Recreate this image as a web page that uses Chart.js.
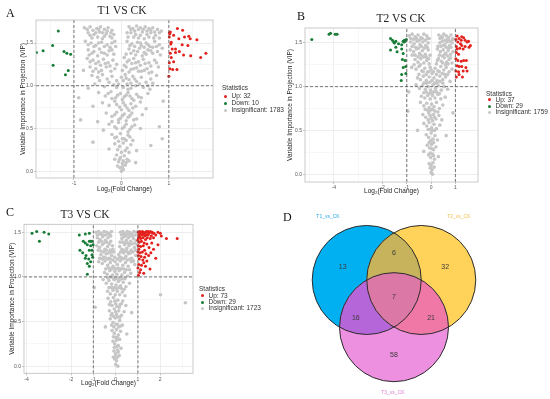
<!DOCTYPE html>
<html>
<head>
<meta charset="utf-8">
<script src="https://cdn.jsdelivr.net/npm/chart.js@4.4.0/dist/chart.umd.min.js"></script>
<style>
  body { margin: 0; width: 550px; height: 399px; background: #fff; position: relative; overflow: hidden; font-family: "Liberation Sans", Arial, sans-serif; }
  canvas { position: absolute; }
  .tag { position: absolute; font-family: "Liberation Serif", serif; font-size: 12px; line-height: 12px; color: #111; }
  .ttl { position: absolute; font-family: "Liberation Serif", serif; font-size: 11.5px; line-height: 12px; color: #222; transform: translateX(-50%); white-space: nowrap; }
  .leg { position: absolute; font-size: 6.5px; color: #333; white-space: nowrap; }
  .leg .dot { display: inline-block; width: 3px; height: 3px; border-radius: 50%; margin: 0 5px 0 1.5px; vertical-align: middle; }
</style>
</head>
<body>
<canvas id="cA" width="275" height="200" style="left:0;top:0"></canvas>
<canvas id="cB" width="275" height="200" style="left:275px;top:0"></canvas>
<canvas id="cC" width="275" height="199" style="left:0;top:200px"></canvas>
<canvas id="cD" width="275" height="199" style="left:275px;top:200px"></canvas>
<script>
// legend categories and counts
const statNames = ['Up', 'Down', 'Insignificant'];
const t1Counts = [32, 10, 1783];
const t2Counts = [37, 29, 1759];
const t3Counts = [73, 29, 1723];

// cut-offs
const fcCut = [-1, 1];
const vipCut = 1;

// volcano points, flat x,y pairs (log2 FC, VIP)
const t1Up = [1.03,1.63, 1.18,1.67, 1.29,1.65, 1.10,1.59, 1.01,1.57, 1.01,1.62, 1.33,1.57, 1.42,1.58, 1.45,1.55, 1.59,1.54,
  1.28,1.48, 1.40,1.47, 1.04,1.49, 1.07,1.43, 1.14,1.39, 1.22,1.40, 1.31,1.36, 1.46,1.35, 1.67,1.33, 1.78,1.38,
  1.03,1.38, 1.05,1.33, 1.10,1.28, 1.01,1.27, 1.02,1.20, 1.08,1.19, 1.17,1.19, 1.00,1.11, 1.14,1.43, 1.21,1.55,
  1.05,1.51, 1.02,1.61];
const t1Down = [-1.33,1.64, -1.65,1.41, -1.45,1.47, -1.21,1.40, -1.15,1.38, -1.07,1.37, -1.44,1.24, -1.12,1.18, -1.18,1.13, -1.79,1.39];
const t1Insig = [
  -0.78,1.68, -0.66,1.69, -0.52,1.67, -0.44,1.69, -0.36,1.66, -0.28,1.68, -0.2,1.65, -0.7,1.62, -0.58,1.6, -0.46,1.63,
  -0.32,1.61, -0.24,1.58, -0.62,1.56, -0.5,1.57, -0.4,1.55, -0.16,1.6,
  0.16,1.69, 0.24,1.67, 0.32,1.7, 0.4,1.68, 0.5,1.69, 0.58,1.67, 0.66,1.68, 0.76,1.66, 0.84,1.64, 0.2,1.62,
  0.3,1.6, 0.44,1.63, 0.54,1.6, 0.62,1.62, 0.72,1.59, 0.36,1.56, 0.48,1.55, 0.8,1.56, 0.14,1.57,
  -0.76,1.52, -0.64,1.5, -0.54,1.47, -0.42,1.51, -0.3,1.48, -0.2,1.5, -0.12,1.46, -0.7,1.42, -0.58,1.4, -0.46,1.43,
  -0.36,1.38, -0.26,1.41, -0.16,1.37, -0.5,1.35, -0.68,1.36,
  0.12,1.52, 0.22,1.49, 0.34,1.51, 0.42,1.47, 0.52,1.5, 0.6,1.46, 0.7,1.52, 0.8,1.48, 0.16,1.43, 0.26,1.41,
  0.38,1.44, 0.48,1.39, 0.56,1.42, 0.66,1.38, 0.76,1.4, 0.1,1.37, 0.3,1.36, 0.44,1.35, 0.86,1.44,
  -0.72,1.32, -0.6,1.3, -0.48,1.28, -0.38,1.31, -0.28,1.27, -0.18,1.3, -0.1,1.25, -0.66,1.22, -0.54,1.2, -0.42,1.18,
  -0.32,1.22, -0.22,1.17, -0.8,1.18,
  0.06,1.33, 0.16,1.3, 0.26,1.32, 0.36,1.28, 0.46,1.31, 0.58,1.27, 0.7,1.3, 0.1,1.22, 0.2,1.19, 0.32,1.21,
  0.42,1.17, 0.54,1.2, 0.64,1.16, 0.78,1.22, 0.02,1.18,
  -0.62,1.12, -0.5,1.1, -0.4,1.13, -0.3,1.08, -0.2,1.11, -0.1,1.06, 0.0,1.1, 0.08,1.13, 0.16,1.07, 0.24,1.11,
  0.32,1.05, 0.42,1.1, 0.52,1.04, 0.62,1.08, 0.74,1.12, -0.56,1.02, -0.36,0.99, -0.16,1.01, 0.04,0.98, 0.12,1.02,
  0.2,0.97, 0.3,1.0, 0.46,0.98, 0.6,0.96, -0.7,0.97,
  -0.48,0.92, -0.34,0.88, -0.22,0.93, -0.12,0.86, -0.02,0.91, 0.06,0.87, 0.14,0.92, 0.22,0.85, 0.32,0.9, 0.42,0.86,
  0.56,0.91, -0.4,0.8, -0.26,0.77, -0.14,0.82, -0.04,0.75, 0.04,0.8, 0.12,0.74, 0.2,0.79, 0.3,0.76, 0.4,0.81,
  0.52,0.73, -0.9,0.86, 0.88,0.82, -0.6,0.76,
  -0.32,0.68, -0.2,0.64, -0.1,0.69, -0.02,0.62, 0.06,0.67, 0.14,0.63, 0.22,0.68, 0.32,0.61, 0.44,0.66, -0.26,0.55,
  -0.14,0.52, -0.06,0.57, 0.02,0.5, 0.1,0.55, 0.18,0.49, 0.28,0.54, 0.4,0.5, -0.38,0.48, -0.86,0.6, 0.8,0.52, -0.5,0.58,
  -0.2,0.43, -0.1,0.4, -0.02,0.44, 0.06,0.38, 0.14,0.42, 0.24,0.36, -0.14,0.32, -0.04,0.29, 0.04,0.33, 0.12,0.27,
  0.2,0.31, -0.26,0.26, 0.32,0.24, 0.62,0.3, -0.6,0.34, 0.86,0.38,
  -0.1,0.19, -0.02,0.16, 0.06,0.18, 0.12,0.14, -0.06,0.11, 0.02,0.09, 0.08,0.07, -0.03,0.04, 0.04,0.02, 0.0,0.0,
  0.16,0.12, -0.14,0.14, 0.3,0.1,
  -0.72,1.66, -0.6,1.65, -0.48,1.66, -0.4,1.62, -0.3,1.64, -0.22,1.62, -0.54,1.62, -0.66,1.59, -0.36,1.58, -0.2,1.56,
  0.2,1.66, 0.28,1.64, 0.36,1.66, 0.46,1.66, 0.54,1.64, 0.62,1.65, 0.7,1.63, 0.8,1.62, 0.26,1.57, 0.4,1.59,
  0.58,1.57, 0.68,1.56, 0.12,1.62,
  -0.7,1.48, -0.58,1.46, -0.48,1.5, -0.36,1.46, -0.24,1.45, -0.14,1.52, -0.62,1.38, -0.42,1.39, -0.3,1.36, -0.2,1.42,
  0.18,1.47, 0.28,1.46, 0.4,1.5, 0.48,1.45, 0.56,1.48, 0.66,1.45, 0.74,1.46, 0.2,1.38, 0.34,1.4, 0.52,1.37,
  0.62,1.41, 0.82,1.36,
  -0.66,1.28, -0.54,1.26, -0.44,1.24, -0.34,1.26, -0.24,1.23, -0.14,1.2, -0.6,1.17, -0.48,1.16,
  0.12,1.28, 0.22,1.26, 0.3,1.27, 0.4,1.24, 0.5,1.26, 0.62,1.23, 0.74,1.27, 0.06,1.24, 0.16,1.16, 0.26,1.2,
  0.36,1.17, 0.48,1.18, 0.58,1.15,
  -0.46,1.06, -0.26,1.04, -0.06,1.02, 0.04,1.06, 0.1,1.09, 0.2,1.03, 0.28,1.08, 0.38,1.02, 0.56,1.0, 0.66,1.03,
  -0.1,0.98, 0.14,0.96,
  -0.28,0.91, -0.08,0.89, 0.02,0.84, 0.1,0.89, 0.18,0.88, 0.26,0.83, 0.36,0.87, -0.2,0.85, -0.1,0.78, 0.0,0.72,
  0.08,0.77, 0.16,0.71, 0.24,0.74,
  -0.14,0.66, -0.06,0.6, 0.02,0.65, 0.1,0.59, 0.18,0.65, 0.26,0.6, -0.2,0.58, -0.1,0.5, 0.06,0.52, 0.14,0.46,
  0.22,0.52,
  -0.14,0.39, -0.06,0.35, 0.02,0.38, 0.1,0.36, 0.18,0.4, -0.08,0.25, 0.0,0.22, 0.08,0.24, 0.16,0.22, -0.04,0.14,
  0.04,0.12, 0.1,0.1, -0.08,0.06, 0.02,0.05];

const t2Up = [1.07,1.58, 1.15,1.55, 1.26,1.57, 1.34,1.56, 1.40,1.53, 1.48,1.51, 1.54,1.52, 1.62,1.47, 1.10,1.51, 1.21,1.49,
  1.26,1.47, 1.18,1.44, 1.04,1.46, 1.32,1.43, 1.56,1.45, 1.04,1.39, 1.13,1.37, 1.02,1.32, 1.10,1.30, 1.24,1.29,
  1.34,1.30, 1.45,1.30, 1.07,1.24, 1.26,1.23, 1.43,1.22, 1.02,1.18, 1.13,1.17, 1.32,1.18, 1.48,1.18, 1.15,1.14,
  1.04,1.11, 1.29,1.11, 1.02,1.54, 1.07,1.43, 1.24,1.53, 1.40,1.46, 1.15,1.23];
const t2Down = [-4.91,1.54, -4.20,1.60, -4.14,1.61, -3.95,1.60, -3.87,1.60, -1.67,1.55, -1.59,1.53, -1.45,1.52, -1.51,1.50, -1.15,1.52,
  -1.10,1.53, -1.07,1.52, -1.02,1.54, -1.34,1.49, -1.21,1.48, -1.12,1.51, -1.45,1.45, -1.67,1.42, -1.21,1.43, -1.40,1.40,
  -1.15,1.38, -1.18,1.31, -1.07,1.30, -1.04,1.23, -1.15,1.22, -1.04,1.15, -1.21,1.14, -1.23,1.07, -1.54,1.51];
const t2Insig = [
  -0.9,1.58, -0.78,1.6, -0.66,1.57, -0.54,1.59, -0.42,1.56, -0.3,1.6, -0.18,1.58, -0.08,1.55, -0.84,1.51, -0.7,1.49,
  -0.58,1.52, -0.46,1.48, -0.34,1.51, -0.22,1.47, -0.12,1.5,
  0.32,1.59, 0.42,1.57, 0.52,1.6, 0.62,1.58, 0.72,1.56, 0.82,1.59, 0.9,1.55, 0.36,1.5, 0.46,1.52, 0.56,1.48,
  0.66,1.51, 0.76,1.47, 0.86,1.5, 0.28,1.46,
  -0.86,1.42, -0.72,1.4, -0.6,1.43, -0.48,1.38, -0.36,1.41, -0.24,1.37, -0.12,1.42, -0.04,1.36, -0.66,1.31, -0.54,1.28,
  -0.42,1.32, -0.3,1.27, -0.18,1.3, -0.08,1.26,
  0.26,1.43, 0.38,1.4, 0.5,1.42, 0.6,1.38, 0.7,1.41, 0.8,1.37, 0.9,1.4, 0.3,1.32, 0.42,1.29, 0.54,1.33,
  0.64,1.28, 0.74,1.31, 0.86,1.27, 0.22,1.26,
  -0.8,1.22, -0.62,1.2, -0.5,1.23, -0.38,1.18, -0.26,1.21, -0.14,1.17, -0.04,1.22, -0.56,1.1, -0.44,1.08, -0.32,1.12,
  -0.2,1.07, -0.08,1.11, 0.04,1.15,
  0.16,1.21, 0.28,1.18, 0.4,1.23, 0.52,1.19, 0.62,1.22, 0.74,1.17, 0.86,1.2, 0.12,1.1, 0.24,1.07, 0.36,1.12,
  0.48,1.08, 0.6,1.11, 0.78,1.06,
  -0.62,1.02, -0.48,0.98, -0.36,1.01, -0.24,0.97, -0.12,1.0, -0.02,0.96, 0.08,1.02, 0.18,0.98, 0.3,1.01, 0.42,0.96,
  0.54,1.0, 0.68,0.97, -0.4,0.89, -0.26,0.87, -0.14,0.9, -0.04,0.86, 0.06,0.9, 0.16,0.87, 0.28,0.91, 0.4,0.86,
  0.58,0.88, -0.92,0.94,
  -0.44,0.82, -0.3,0.78, -0.18,0.81, -0.08,0.76, 0.02,0.8, 0.12,0.77, 0.22,0.82, 0.34,0.75, 0.48,0.79, -0.34,0.68,
  -0.22,0.65, -0.1,0.7, 0.0,0.64, 0.1,0.68, 0.2,0.63, 0.32,0.67, 0.44,0.62, -0.96,0.72, 0.9,0.7,
  -0.3,0.58, -0.18,0.55, -0.08,0.59, 0.02,0.53, 0.12,0.57, 0.22,0.52, 0.36,0.56, -0.2,0.45, -0.1,0.42, 0.0,0.47,
  0.08,0.4, 0.16,0.44, 0.26,0.39, -0.56,0.5, 0.62,0.44,
  -0.16,0.33, -0.06,0.3, 0.02,0.34, 0.1,0.28, 0.2,0.31, -0.1,0.22, -0.02,0.19, 0.06,0.23, 0.14,0.17, -0.08,0.12,
  0.0,0.1, 0.08,0.13, 0.3,0.2, -0.3,0.26,
  -0.04,0.07, 0.04,0.05, 0.0,0.02, 0.06,0.0, 0.12,0.08,
  -0.84,1.55, -0.72,1.54, -0.6,1.55, -0.48,1.53, -0.36,1.55, -0.24,1.53, -0.14,1.55, -0.78,1.46, -0.64,1.45, -0.52,1.44,
  -0.4,1.46, -0.28,1.44, -0.16,1.45,
  0.36,1.55, 0.46,1.56, 0.58,1.53, 0.68,1.54, 0.78,1.52, 0.88,1.54, 0.4,1.46, 0.5,1.47, 0.62,1.45, 0.72,1.44,
  0.82,1.45,
  -0.78,1.36, -0.66,1.36, -0.54,1.34, -0.42,1.36, -0.3,1.34, -0.2,1.34, -0.1,1.32, 0.34,1.36, 0.46,1.35, 0.56,1.37,
  0.68,1.35, 0.8,1.33, 0.26,1.3, 0.48,1.27, 0.6,1.25, 0.7,1.26,
  -0.7,1.25, -0.44,1.25, -0.32,1.17, -0.2,1.14, -0.1,1.17, 0.0,1.19, 0.1,1.17, 0.22,1.14, 0.34,1.17, 0.46,1.15,
  0.56,1.14, 0.68,1.14, -0.5,1.14,
  -0.3,1.04, -0.18,1.04, -0.06,1.05, 0.04,1.07, 0.14,1.04, 0.24,1.04, 0.36,1.06, 0.48,1.04, -0.3,0.93, -0.2,0.94,
  -0.08,0.92, 0.02,0.93, 0.12,0.94, 0.22,0.94, 0.34,0.92,
  -0.24,0.74, -0.14,0.73, -0.04,0.73, 0.06,0.74, 0.16,0.72, 0.28,0.71, -0.12,0.62, -0.04,0.67, 0.06,0.61, 0.14,0.65,
  -0.12,0.51, -0.04,0.51, 0.06,0.5, 0.14,0.5, -0.02,0.38, 0.1,0.36, -0.08,0.36, 0.04,0.29, 0.1,0.21, -0.04,0.24];

const t3Up = [1.02,1.50, 1.08,1.51, 1.14,1.50, 1.20,1.51, 1.26,1.50, 1.32,1.49, 1.38,1.51, 1.44,1.50, 1.50,1.49, 1.56,1.51,
  1.64,1.50, 1.72,1.49, 1.90,1.50, 2.00,1.49, 1.04,1.47, 1.10,1.48, 1.18,1.47, 1.24,1.48, 1.30,1.46, 1.36,1.47,
  1.46,1.47, 1.60,1.46, 1.80,1.47, 2.05,1.46, 1.02,1.44, 1.12,1.43, 1.22,1.44, 1.34,1.42, 1.42,1.44, 1.55,1.43,
  2.28,1.43, 2.76,1.43, 1.00,1.41, 1.06,1.39, 1.16,1.40, 1.28,1.38, 1.40,1.37, 1.62,1.38, 1.02,1.35, 1.12,1.34,
  1.24,1.35, 1.50,1.33, 1.90,1.36, 1.04,1.31, 1.30,1.30, 1.70,1.31, 1.00,1.28, 1.10,1.27, 1.20,1.28, 1.36,1.26,
  1.58,1.27, 1.02,1.24, 1.14,1.23, 1.30,1.22, 1.48,1.24, 1.06,1.20, 1.22,1.19, 1.40,1.18, 1.80,1.21, 1.04,1.14,
  1.16,1.13, 1.34,1.12, 1.00,1.10, 1.12,1.08, 1.54,1.09, 1.08,1.05, 1.26,1.04, 1.02,1.02, 1.66,1.49, 1.46,1.51,
  1.08,1.45, 1.70,1.44, 1.26,1.16];
const t3Down = [-3.75,1.49, -3.54,1.51, -3.21,1.50, -3.00,1.48, -3.42,1.40, -1.63,1.47, -1.36,1.48, -1.18,1.49, -1.45,1.40, -1.36,1.38,
  -1.18,1.40, -1.12,1.40, -1.06,1.40, -1.27,1.36, -1.12,1.35, -1.01,1.36, -1.60,1.30, -1.18,1.30, -1.06,1.30, -1.33,1.24,
  -1.06,1.25, -1.36,1.21, -1.21,1.20, -1.27,1.15, -1.18,1.12, -1.03,1.22, -1.48,1.27, -1.27,1.03, -1.12,1.17];
const t3Insig = [
  -0.88,1.5, -0.76,1.51, -0.64,1.49, -0.52,1.51, -0.4,1.5, -0.28,1.49, -0.18,1.51, -0.82,1.44, -0.7,1.42, -0.58,1.45,
  -0.46,1.41, -0.34,1.44, -0.22,1.4,
  0.22,1.5, 0.32,1.51, 0.42,1.49, 0.52,1.51, 0.62,1.5, 0.72,1.49, 0.82,1.51, 0.94,1.5, 0.28,1.43, 0.38,1.45,
  0.48,1.41, 0.58,1.44, 0.68,1.4, 0.8,1.43, 0.92,1.41, 0.2,1.39,
  -0.84,1.35, -0.72,1.33, -0.6,1.36, -0.48,1.31, -0.36,1.34, -0.24,1.3, -0.14,1.35, -0.66,1.25, -0.54,1.22, -0.42,1.26,
  -0.3,1.21, -0.18,1.24, -0.08,1.28,
  0.18,1.34, 0.28,1.31, 0.4,1.36, 0.5,1.32, 0.6,1.35, 0.7,1.3, 0.84,1.33, 0.96,1.36, 0.14,1.25, 0.24,1.22,
  0.36,1.27, 0.46,1.23, 0.58,1.26, 0.72,1.21, 0.9,1.24,
  -0.76,1.17, -0.6,1.15, -0.48,1.18, -0.36,1.13, -0.24,1.16, -0.12,1.12, -0.02,1.17, 0.08,1.14, 0.2,1.18, 0.32,1.13,
  0.44,1.16, 0.56,1.12, 0.7,1.17, 0.86,1.14, -0.5,1.05, -0.38,1.03, -0.26,1.07, -0.14,1.02, -0.04,1.06, 0.06,1.03,
  0.16,1.07, 0.28,1.02, 0.4,1.05, 0.54,1.01, 0.68,1.04,
  -0.56,0.97, -0.42,0.93, -0.3,0.96, -0.18,0.92, -0.08,0.97, 0.02,0.91, 0.12,0.95, 0.22,0.9, 0.34,0.94, 0.46,0.89,
  0.62,0.93, -0.36,0.84, -0.24,0.81, -0.12,0.85, -0.02,0.8, 0.08,0.84, 0.18,0.8, 0.3,0.83, 0.42,0.79, -0.96,0.88,
  2.01,0.8,
  -0.34,0.76, -0.22,0.72, -0.1,0.77, 0.0,0.7, 0.1,0.74, 0.2,0.69, 0.32,0.73, 0.46,0.68, -0.28,0.62, -0.16,0.59,
  -0.06,0.64, 0.04,0.58, 0.14,0.62, 0.26,0.57, 0.38,0.61, 3.13,0.71, -0.92,0.66, 0.72,0.6,
  -0.24,0.53, -0.12,0.49, -0.02,0.54, 0.08,0.47, 0.18,0.51, 0.3,0.46, -0.16,0.4, -0.06,0.37, 0.04,0.41, 0.12,0.35,
  0.22,0.39, -0.46,0.44, 0.5,0.36,
  -0.12,0.28, -0.04,0.25, 0.04,0.29, 0.12,0.23, -0.08,0.17, 0.0,0.14, 0.08,0.18, 0.16,0.12, -0.04,0.08, 0.04,0.06,
  0.0,0.02, 0.1,0.0, -0.1,0.1, 0.24,0.2,
  -0.82,1.47, -0.7,1.48, -0.58,1.47, -0.46,1.47, -0.34,1.48, -0.22,1.46, -0.76,1.39, -0.64,1.4, -0.52,1.38, -0.4,1.39,
  -0.28,1.37,
  0.26,1.47, 0.36,1.48, 0.46,1.46, 0.56,1.48, 0.66,1.46, 0.76,1.46, 0.88,1.47, 0.32,1.39, 0.42,1.38, 0.54,1.38,
  0.62,1.37, 0.74,1.37, 0.86,1.38,
  -0.78,1.3, -0.66,1.29, -0.54,1.28, -0.42,1.3, -0.3,1.27, -0.2,1.28, -0.12,1.31, 0.22,1.28, 0.34,1.3, 0.44,1.29,
  0.54,1.28, 0.66,1.27, 0.78,1.28, 0.9,1.3,
  -0.72,1.21, -0.6,1.2, -0.48,1.22, -0.36,1.2, -0.24,1.2, -0.12,1.19, -0.04,1.22, 0.08,1.2, 0.18,1.22, 0.3,1.2,
  0.4,1.21, 0.52,1.19, 0.64,1.2, 0.8,1.18,
  -0.44,1.09, -0.3,1.1, -0.18,1.09, -0.08,1.1, 0.02,1.09, 0.12,1.1, 0.24,1.09, 0.36,1.09, 0.48,1.08, 0.62,1.08,
  -0.36,0.99, -0.24,1.0, -0.12,0.99, 0.0,0.98, 0.1,0.99, 0.2,0.97, 0.3,0.98, 0.42,0.98, -0.3,0.88, -0.18,0.88,
  -0.06,0.88, 0.04,0.87, 0.14,0.88, 0.26,0.87, 0.38,0.86,
  -0.28,0.69, -0.16,0.68, -0.04,0.73, 0.06,0.67, 0.16,0.66, 0.26,0.7, -0.2,0.57, -0.1,0.56, 0.0,0.61, 0.1,0.55,
  0.2,0.55,
  -0.18,0.46, -0.08,0.44, 0.02,0.47, 0.14,0.44, 0.24,0.45, -0.1,0.33, 0.0,0.32, 0.08,0.32, 0.18,0.3, -0.06,0.21,
  0.06,0.22, 0.12,0.16, -0.02,0.11, 0.08,0.1];

// Venn
const vennSets = ['T1_vs_CK', 'T2_vs_CK', 'T3_vs_CK'];
const vennCounts = [13, 6, 32, 7, 16, 21, 58]; // T1 only, T1&T2, T2 only, all, T1&T3, T2&T3, T3 only

// ---- styling / layout (not data) ----
const FONT = "'Liberation Sans', Arial, sans-serif";
const statColors = ['#e3211c', '#177c35', '#c6c6c6'];
const vennCentres = [[-0.5, 0.2887], [0.5, 0.2887], [0, -0.5774]];
const vennRadius = 1;
const vennColors = ['#00b0f0', '#ffd25a', '#ee90e0'];
const vennCountPos = [[-0.94, 0.53], [0, 0.78], [0.94, 0.53], [0, -0.02], [-0.70, -0.41], [0.68, -0.41], [0, -1.09]];
const vennNamePos = [[-1.21, 1.46], [1.19, 1.46], [-0.02, -1.77]];
const vennNameColors = ['#2aa8e6', '#f0c050', '#e07ed6'];

function pts(flat) {
  const out = [];
  for (let i = 0; i < flat.length; i += 2) out.push({x: flat[i], y: flat[i + 1]});
  return out;
}

const framePlugin = {
  id: 'frame',
  afterDatasetsDraw(chart) {
    const {ctx, chartArea: a} = chart;
    ctx.save();
    ctx.strokeStyle = '#bdbdbd';
    ctx.lineWidth = 0.8;
    ctx.strokeRect(a.left, a.top, a.right - a.left, a.bottom - a.top);
    ctx.restore();
  }
};

function volcano(id, up, down, insig, ax) {
  const yMajor = [0, 0.5, 1, 1.5];
  const xAll = ax.xBreaks.concat(ax.xMinor);
  const yAll = yMajor.concat(ax.yMinor);
  const dash = (a, b) => ({type: 'line', data: [a, b], borderColor: '#555', borderWidth: 0.8,
    borderDash: [3, 2], pointRadius: 0});
  const dot = (data, col, r) => ({data: pts(data), pointBackgroundColor: col, backgroundColor: col,
    pointBorderWidth: 0, pointRadius: r});
  new Chart(document.getElementById(id), {
    type: 'scatter',
    data: {datasets: [
      dash({x: fcCut[0], y: ax.yMin}, {x: fcCut[0], y: ax.yMax}),
      dash({x: fcCut[1], y: ax.yMin}, {x: fcCut[1], y: ax.yMax}),
      dash({x: ax.xMin, y: vipCut}, {x: ax.xMax, y: vipCut}),
      dot(up, statColors[0], 1.5),
      dot(down, statColors[1], 1.5),
      dot(insig, statColors[2], 1.8)
    ]},
    options: {
      animation: false, responsive: false, devicePixelRatio: 1,
      layout: {padding: ax.pad},
      plugins: {legend: {display: false}, tooltip: {enabled: false}},
      scales: {
        x: {
          type: 'linear', min: ax.xMin, max: ax.xMax,
          afterBuildTicks: s => { s.ticks = xAll.map(v => ({value: v})); },
          afterFit: s => { s.height = ax.xH; },
          border: {display: false},
          grid: {
            color: c => ax.xBreaks.includes(c.tick.value) ? '#e6e6e6' : '#f3f3f3',
            tickColor: c => ax.xBreaks.includes(c.tick.value) ? '#aaa' : 'rgba(0,0,0,0)',
            tickLength: 2, lineWidth: 0.7
          },
          ticks: {autoSkip: false, maxRotation: 0, padding: 1, color: '#555', font: {size: 5, family: FONT},
            callback: v => ax.xBreaks.includes(v) ? String(v) : ''},
          title: {display: true, text: 'Log₂(Fold Change)', color: '#222', padding: 0, font: {size: 6.5, family: FONT}}
        },
        y: {
          min: ax.yMin, max: ax.yMax,
          afterBuildTicks: s => { s.ticks = yAll.map(v => ({value: v})); },
          afterFit: s => { s.width = ax.yW; },
          border: {display: false},
          grid: {
            color: c => yMajor.includes(c.tick.value) ? '#e6e6e6' : '#f3f3f3',
            tickColor: c => yMajor.includes(c.tick.value) ? '#aaa' : 'rgba(0,0,0,0)',
            tickLength: 2, lineWidth: 0.7
          },
          ticks: {autoSkip: false, padding: 1, color: '#555', font: {size: 5, family: FONT},
            callback: v => yMajor.includes(v) ? v.toFixed(1) : ''},
          title: {display: true, text: 'Variable Importance in Projection (VIP)', color: '#222', padding: 0,
            font: {size: 6.5, family: FONT}}
        }
      }
    },
    plugins: [framePlugin]
  });
}

volcano('cA', t1Up, t1Down, t1Insig, {
  xMin: -1.8, xMax: 1.93, yMin: -0.08, yMax: 1.77,
  xBreaks: [-1, 0, 1], xMinor: [-1.5, -0.5, 0.5, 1.5], yMinor: [0.25, 0.75, 1.25, 1.75],
  pad: {left: 19, right: 62, top: 20, bottom: 7}, yW: 17, xH: 15
});
volcano('cB', t2Up, t2Down, t2Insig, {
  xMin: -5.19, xMax: 1.93, yMin: -0.09, yMax: 1.67,
  xBreaks: [-4, -2, -1, 0, 1], xMinor: [-5, -3], yMinor: [0.25, 0.75, 1.25],
  pad: {left: 11, right: 72, top: 28, bottom: 4.4}, yW: 19, xH: 13.6
});
volcano('cC', t3Up, t3Down, t3Insig, {
  xMin: -4.11, xMax: 3.47, yMin: -0.08, yMax: 1.59,
  xBreaks: [-4, -2, -1, 0, 1, 2], xMinor: [-3, 3], yMinor: [0.25, 0.75, 1.25],
  pad: {left: 8, right: 82, top: 24.3, bottom: 11.8}, yW: 16, xH: 13.9
});

// Venn diagram: circles and overlaps drawn from the centres through the chart scales
const vennPlugin = {
  id: 'venn',
  afterDatasetsDraw(chart) {
    const {ctx} = chart;
    const sx = chart.scales.x, sy = chart.scales.y;
    const r = sx.getPixelForValue(vennRadius) - sx.getPixelForValue(0);
    const c = chart.getDatasetMeta(0).data.map(e => ({x: e.x, y: e.y, r}));
    const circle = k => { ctx.beginPath(); ctx.arc(k.x, k.y, k.r, 0, Math.PI * 2); };
    ctx.save();
    c.forEach((k, i) => { circle(k); ctx.fillStyle = vennColors[i]; ctx.fill(); });
    const regions = [[[0, 1], '#c6b35c'], [[0, 2], '#b566d9'], [[1, 2], '#ef78a6'], [[0, 1, 2], '#dc78a6']];
    regions.forEach(([ids, col]) => {
      ctx.save();
      ids.forEach(i => { circle(c[i]); ctx.clip(); });
      ctx.fillStyle = col;
      ctx.fillRect(0, 0, chart.width, chart.height);
      ctx.restore();
    });
    ctx.strokeStyle = '#2b2b2b';
    ctx.lineWidth = 1;
    c.forEach(k => { circle(k); ctx.stroke(); });
    ctx.textAlign = 'center';
    ctx.textBaseline = 'middle';
    ctx.fillStyle = '#3a3a3a';
    ctx.font = '7px ' + FONT;
    vennCounts.forEach((n, i) => {
      ctx.fillText(String(n), sx.getPixelForValue(vennCountPos[i][0]), sy.getPixelForValue(vennCountPos[i][1]));
    });
    ctx.font = '5px ' + FONT;
    vennSets.forEach((n, i) => {
      ctx.fillStyle = vennNameColors[i];
      ctx.fillText(n, sx.getPixelForValue(vennNamePos[i][0]), sy.getPixelForValue(vennNamePos[i][1]));
    });
    ctx.restore();
  }
};

new Chart(document.getElementById('cD'), {
  type: 'scatter',
  data: {datasets: [{
    data: vennCentres.map(p => ({x: p[0], y: p[1]})),
    pointRadius: 0
  }]},
  options: {
    animation: false, responsive: false, devicePixelRatio: 1,
    layout: {padding: 0},
    plugins: {legend: {display: false}, tooltip: {enabled: false}},
    scales: {
      x: {type: 'linear', min: -2.183, max: 2.862, display: false},
      y: {type: 'linear', min: -1.895, max: 1.756, display: false}
    }
  },
  plugins: [vennPlugin]
});

// panel tags, titles, legends
function addDiv(cls, text, left, top) {
  const d = document.createElement('div');
  d.className = cls;
  d.textContent = text;
  d.style.left = left + 'px';
  d.style.top = top + 'px';
  document.body.appendChild(d);
}
addDiv('tag', 'A', 6, 7);
addDiv('tag', 'B', 297, 10);
addDiv('tag', 'C', 6, 206);
addDiv('tag', 'D', 283, 211);
addDiv('ttl', 'T1 VS CK', 122, 4);
addDiv('ttl', 'T2 VS CK', 401, 12);
addDiv('ttl', 'T3 VS CK', 85, 208);

function legend(left, top, counts, gap, step) {
  const d = document.createElement('div');
  d.className = 'leg';
  d.style.left = left + 'px';
  d.style.top = top + 'px';
  let h = `<div style="line-height:${gap}px">Statistics</div>`;
  statNames.forEach((n, i) => {
    h += `<div style="line-height:${step}px"><span class="dot" style="background:${statColors[i]}"></span>${n}: ${counts[i]}</div>`;
  });
  d.innerHTML = h;
  document.body.appendChild(d);
}
legend(222, 82.5, t1Counts, 9.4, 7);
legend(486, 89.5, t2Counts, 7, 6.4);
legend(199, 283.5, t3Counts, 9, 6.3);
</script>
</body>
</html>
